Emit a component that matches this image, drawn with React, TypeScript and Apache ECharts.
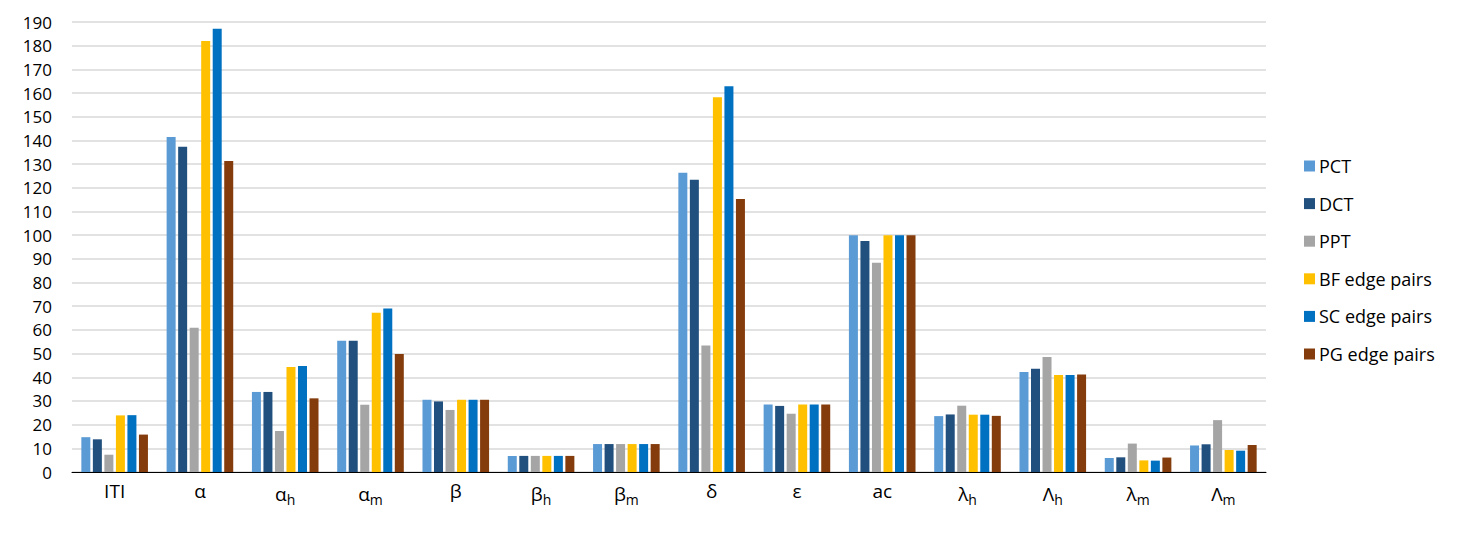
import React, { useEffect, useRef } from "react";
import * as echarts from "echarts";

const categories = ["ITI", "α", "α_h", "α_m", "β", "β_h", "β_m", "δ", "ε", "ac", "λ_h", "Λ_h", "λ_m", "Λ_m"];
const seriesNames = ["PCT", "DCT", "PPT", "BF edge pairs", "SC edge pairs", "PG edge pairs"];
const pct = [14.7, 141.4, 33.8, 55.4, 30.5, 6.8, 11.8, 126.4, 28.5, 100, 23.6, 42.2, 5.9, 11.2];
const dct = [13.8, 137.3, 33.8, 55.4, 29.8, 6.8, 11.8, 123.4, 27.9, 97.5, 24.3, 43.6, 6.2, 11.7];
const ppt = [7.3, 60.9, 17.3, 28.4, 26.2, 6.8, 11.8, 53.4, 24.6, 88.4, 28.0, 48.6, 12.0, 21.9];
const bf = [23.9, 182.0, 44.3, 67.2, 30.5, 6.8, 11.8, 158.2, 28.5, 100, 24.2, 41.0, 4.9, 9.3];
const sc = [24.0, 187.1, 44.8, 69.0, 30.5, 6.8, 11.8, 162.9, 28.5, 100, 24.2, 41.0, 4.8, 9.0];
const pg = [15.8, 131.3, 31.1, 49.8, 30.5, 6.8, 11.8, 115.3, 28.5, 100, 23.7, 41.2, 6.1, 11.4];
const colors = ["#5B9BD5", "#22507E", "#A5A5A5", "#FFC000", "#0070C0", "#843C0C"];

const FONT = "'Open Sans', sans-serif";

export default function App() {
  const ref = useRef<HTMLDivElement>(null);
  useEffect(() => {
    const chart = echarts.init(ref.current!, null, { renderer: "svg" });
    const all = [pct, dct, ppt, bf, sc, pg];
    chart.setOption({
      animation: false,
      backgroundColor: "#FFFFFF",
      textStyle: { fontFamily: FONT },
      grid: { left: 72, right: 201, top: 22, bottom: 61, containLabel: false },
      legend: {
        orient: "vertical",
        left: 1299,
        top: 152,
        itemWidth: 11,
        itemHeight: 11,
        itemGap: 19.6,
        icon: "rect",
        data: seriesNames,
        textStyle: { fontFamily: FONT, fontSize: 18, color: "#000", lineHeight: 18, padding: [0, 0, 0, -1] },
      },
      xAxis: {
        type: "category",
        data: categories,
        axisLine: { lineStyle: { color: "#000", width: 1 } },
        axisTick: { show: false },
        axisLabel: {
          interval: 0,
          margin: 9,
          color: "#000",
          fontSize: 19,
          fontFamily: FONT,
          formatter: (v: string) => {
            const parts = v.split("_");
            if (parts.length === 2) return `{b|${parts[0]}}{s|${parts[1]}}`;
            return `{b|${v}}`;
          },
          rich: {
            b: { fontSize: 19, fontFamily: FONT, color: "#000" },
            s: { fontSize: 14, fontFamily: FONT, color: "#000", padding: [11, 0, 0, 0] },
          },
        },
      },
      yAxis: {
        type: "value",
        min: 0,
        max: 190,
        interval: 10,
        axisLine: { show: false },
        axisTick: { show: false },
        axisLabel: { color: "#000", fontSize: 17, fontFamily: FONT, margin: 20 },
        splitLine: { lineStyle: { color: "#D9D9D9", width: 1.5 } },
      },
      series: seriesNames.map((name, i) => ({
        name,
        type: "bar",
        data: all[i],
        barWidth: 9,
        barGap: "28%",
        itemStyle: { color: colors[i] },
      })),
    });
    return () => chart.dispose();
  }, []);
  return <div ref={ref} style={{ position: "fixed", left: 0, top: 0, width: 1467, height: 533 }} />;
}
